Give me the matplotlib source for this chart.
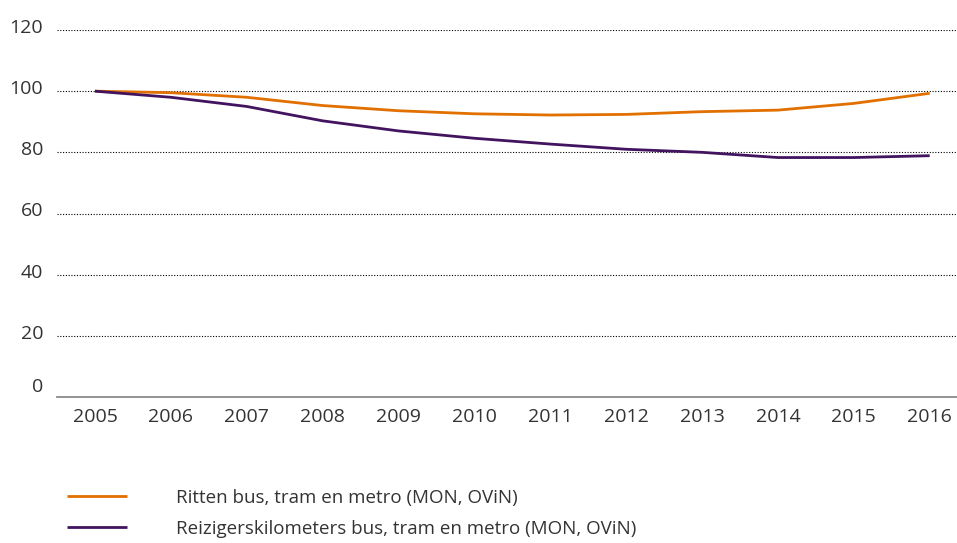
import numpy as np
import matplotlib
matplotlib.use("Agg")
import matplotlib.pyplot as plt
import matplotlib.transforms as mtransforms

plt.rcParams['font.family'] = ['Open Sans', 'DejaVu Sans']

years = [2005, 2006, 2007, 2008, 2009, 2010, 2011, 2012, 2013, 2014, 2015, 2016]
ritten = [100, 99.5, 98.0, 95.3, 93.6, 92.6, 92.2, 92.4, 93.3, 93.8, 96.0, 99.3]
reizigerskm = [100, 98.0, 95.0, 90.3, 87.0, 84.6, 82.7, 81.0, 80.0, 78.3, 78.3, 78.9]
labels = ["Ritten bus, tram en metro (MON, OViN)",
          "Reizigerskilometers bus, tram en metro (MON, OViN)"]
yticks = [0, 20, 40, 60, 80, 100, 120]

ORANGE = "#e17000"
PURPLE = "#42145f"
TXT = "#333333"

fig = plt.figure(figsize=(9.57, 5.43), dpi=100)
ax = fig.add_axes([57/957, 1 - 397/543, 1 - 57/957, (397 - 30)/543])

l1, = ax.plot(years, ritten, color=ORANGE, lw=2.0, solid_capstyle='butt')
l2, = ax.plot(years, reizigerskm, color=PURPLE, lw=2.0, solid_capstyle='butt')

ax.set_ylim(0, 120)
ax.set_xlim(2005 - 0.5, 2016 + 0.36)
ax.set_xticks(years)
ax.set_yticks(yticks)
ax.tick_params(length=0, labelsize=14, colors=TXT)
ax.tick_params(axis='x', pad=8)
ax.tick_params(axis='y', pad=10)

for s in ['top', 'right', 'left']:
    ax.spines[s].set_visible(False)
ax.spines['bottom'].set_color('#8a8a8a')
ax.spines['bottom'].set_linewidth(1.3)

for y in yticks[1:]:
    ax.axhline(y, color='black', lw=0.8, ls=(0, (1, 1.5)), zorder=0)

# labels sit a bit above their gridlines
for t, v in zip(ax.get_yticklabels(), yticks):
    dy = 12 if v == 0 else 4
    t.set_transform(t.get_transform() + mtransforms.ScaledTranslation(0, dy/100, fig.dpi_scale_trans))

leg = fig.legend([l1, l2], labels, loc='upper left', bbox_to_anchor=(50/957, 1 - 472/543),
                 frameon=False, fontsize=13.5, handlelength=3.2, handletextpad=2.6,
                 labelspacing=0.68, labelcolor=TXT)

fig.savefig("out.png", dpi=100)
